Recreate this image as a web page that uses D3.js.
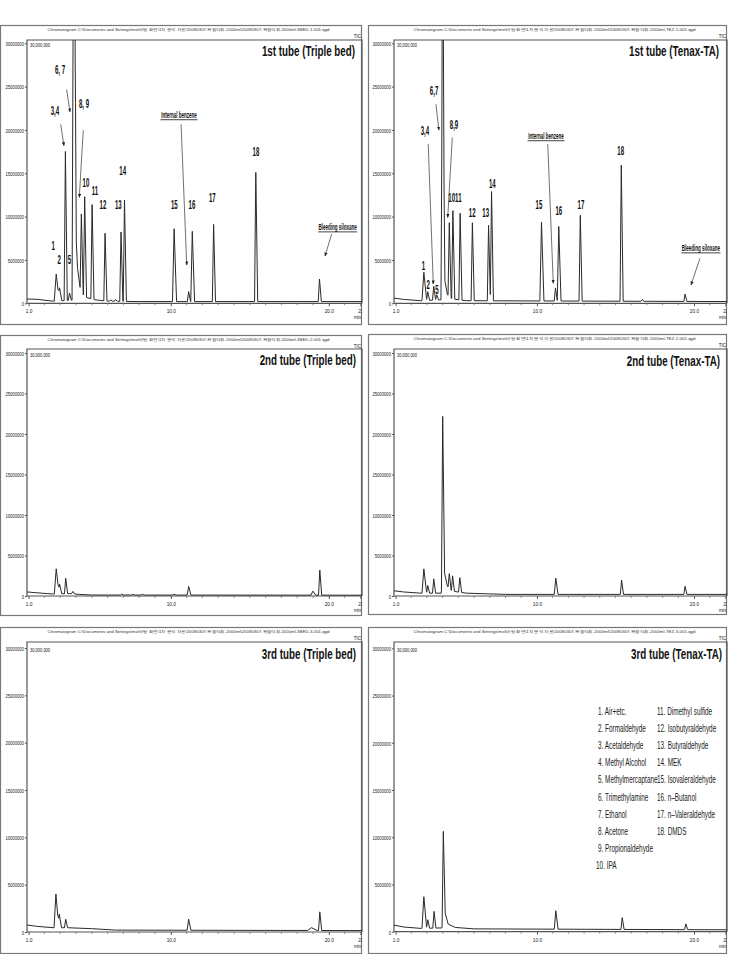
<!DOCTYPE html>
<html><head><meta charset="utf-8">
<script src="https://cdn.jsdelivr.net/npm/d3@7"></script>
<style>body{margin:0;background:#fff}svg text{font-family:"Liberation Sans",Arial,sans-serif}</style>
</head><body>
<svg id="c" width="730" height="954"></svg>
<script>
// ---------------- DATA ----------------
const panelTitles = ["1st tube (Triple bed)","2nd tube (Triple bed)","3rd tube (Triple bed)",
                     "1st tube (Tenax-TA)","2nd tube (Tenax-TA)","3rd tube (Tenax-TA)"];
const filePaths = [
 "Chromatogram C:\\Documents and Settings\\mo\\바탕 화면\\1차 분석 자료\\20080307-복합악취-2000ml\\20080307-복합악취-2000ml-3BED-1-001.qgd",
 "Chromatogram C:\\Documents and Settings\\mo\\바탕 화면\\1차 분석 자료\\20080307-복합악취-2000ml\\20080307-복합악취-2000ml-3BED-2-001.qgd",
 "Chromatogram C:\\Documents and Settings\\mo\\바탕 화면\\1차 분석 자료\\20080307-복합악취-2000ml\\20080307-복합악취-2000ml-3BED-3-001.qgd",
 "Chromatogram C:\\Documents and Settings\\mo\\바탕 화면\\1차 분석 자료\\20080307-복합악취-2000ml\\20080307-복합악취-2000ml-TEZ-1-001.qgd",
 "Chromatogram C:\\Documents and Settings\\mo\\바탕 화면\\1차 분석 자료\\20080307-복합악취-2000ml\\20080307-복합악취-2000ml-TEZ-2-001.qgd",
 "Chromatogram C:\\Documents and Settings\\mo\\바탕 화면\\1차 분석 자료\\20080307-복합악취-2000ml\\20080307-복합악취-2000ml-TEZ-3-001.qgd"];
const yTickValues = [0,5000000,10000000,15000000,20000000,25000000,30000000];
const yTickLabels = ["0","5000000","10000000","15000000","20000000","25000000","30000000"];
const xTickValues = [1,10,20,22];
const xTickLabels = ["1.0","10.0","20.0","22"];
const xMinorTicks = [2,3,4,5,6,7,8,9,11,12,13,14,15,16,17,18,19,21];
const scaleNote = "30,000,000";

// peaks: [retention time (min), height (counts), width factor]
const peaksTB1 = [[2.75,3.1e6,1.6],[2.96,1.5e6,1.2],[3.33,17.2e6],[3.59,0.85e6],[3.83,34e6],[3.90,34e6],
  [4.34,9.1e6],[4.55,11.5e6],[5.02,10.9e6],[5.84,7.8e6],[6.2,0.15e6],[6.5,0.2e6],[6.85,8.0e6],[7.07,11.7e6],
  [10.21,8.4e6,1.3],[11.13,1.15e6],[11.36,8.1e6,1.2],[12.71,8.9e6],[15.38,14.9e6],[19.41,2.6e6]];
const baseTB1 = [[0.9,0.5e6],[1.6,0.45e6],[2.5,0.25e6],[3.75,0.35e6],[3.97,9e6],[4.1,4e6],[4.3,1.3e6],
  [4.6,0.7e6],[5.2,0.4e6],[6,0.25e6],[8,0.2e6],[22.2,0.2e6]];

const peaksTB2 = [[2.75,3.1e6,1.5],[2.96,1.2e6,1.2],[3.35,1.9e6],[3.8,0.3e6],[6.9,0.12e6],[7.6,0.1e6],
  [8.2,0.1e6],[10.2,0.1e6],[11.13,1.07e6,1.2],[18.99,0.5e6,1.5],[19.43,3.1e6]];
const baseTB2 = [[0.9,0.5e6],[1.5,0.4e6],[2.5,0.25e6],[3.6,0.3e6],[4.2,0.2e6],[5,0.12e6],[22.2,0.1e6]];

const peaksTB3 = [[2.73,3.56e6,1.5],[2.94,1.45e6,1.2],[3.35,0.9e6],[11.13,1.16e6,1.2],[18.9,0.3e6,3],[19.43,1.97e6]];
const baseTB3 = [[0.9,0.74e6],[1.5,0.6e6],[2.6,0.45e6],[3.5,0.45e6],[5,0.35e6],[6.5,0.2e6],[22.2,0.15e6]];

const peaksTX1 = [[2.80,3.26e6,1.5],[3.05,1.0e6],[3.43,1.6e6],[3.62,0.6e6],[3.97,24.6e6],[4.02,23.5e6],
  [4.42,8.5e6],[4.65,10.2e6],[5.11,10.0e6],[5.89,9.0e6],[6.92,8.7e6],[7.11,12.6e6],[10.29,9.1e6,1.3],
  [11.18,1.5e6],[11.39,8.6e6,1.2],[12.76,9.9e6],[15.37,15.7e6],[16.7,0.2e6],[19.43,0.84e6]];
const baseTX1 = [[0.9,0.6e6],[1.5,0.45e6],[2.6,0.3e6],[3.9,0.4e6],[4.1,3e6],[4.3,1e6],[4.6,0.5e6],
  [5.5,0.3e6],[22.2,0.2e6]];

const peaksTX2 = [[2.80,3.0e6,1.5],[3.05,0.95e6],[3.43,1.77e6],[4.0,20.5e6],[4.42,1.8e6],[4.63,1.9e6],
  [5.09,1.8e6],[11.2,2.0e6,1.2],[15.39,1.77e6],[19.43,1.0e6]];
const baseTX2 = [[0.9,0.65e6],[1.5,0.5e6],[2.6,0.35e6],[3.9,0.35e6],[4.1,3e6],[4.3,1.2e6],[4.6,0.6e6],
  [5.5,0.35e6],[8,0.2e6],[22.2,0.2e6]];

const peaksTX3 = [[2.80,3.35e6,1.5],[3.05,0.9e6],[3.45,1.77e6],[4.04,9.5e6],[11.2,1.95e6,1.2],
  [15.43,1.24e6],[19.48,0.6e6]];
const baseTX3 = [[0.9,0.7e6],[1.5,0.5e6],[2.6,0.35e6],[3.95,0.4e6],[4.15,2.0e6],[4.35,0.8e6],[4.8,0.45e6],
  [6,0.3e6],[22.2,0.2e6]];

// peak labels: [text, time, intensity]
const labelsTB1 = [["1",2.56,6.72e6],["2",2.94,5.1e6],["5",3.58,5.1e6],["3,4",2.67,22.3e6],["6, 7",2.99,27.0e6],
  ["8, 9",4.51,23.1e6],["10",4.63,13.9e6],["11",5.2,13.0e6],["12",5.71,11.45e6],["13",6.68,11.45e6],
  ["14",6.96,15.3e6],["15",10.22,11.45e6],["16",11.34,11.45e6],["17",12.63,12.2e6],["18",15.39,17.55e6]];
const notesTB1 = [["Internal benzene",10.52,21.7e6],["Bleeding siloxane",20.56,8.76e6]];
const arrowsTB1 = [[3.41,24.66e6,3.62,22.08e6],[3.03,20.66e6,3.24,18.16e6],[4.46,19.98e6,4.21,12.22e6],
  [10.65,20.66e6,11.01,4.41e6],[20.18,7.99e6,19.76,5.45e6]];

const labelsTX1 = [["1",2.77,4.33e6],["2",3.08,2.11e6],["5",3.64,1.61e6],["3,4",2.87,19.9e6],["6,7",3.45,24.6e6],
  ["8,9",4.72,20.66e6],["1011",4.78,12.2e6],["12",5.88,10.44e6],["13",6.74,10.44e6],["14",7.16,13.83e6],
  ["15",10.13,11.44e6],["16",11.39,10.67e6],["17",12.8,11.44e6],["18",15.33,17.59e6]];
const notesTX1 = [["Internal benzene",10.58,19.28e6],["Bleeding siloxane",20.44,6.34e6]];
const arrowsTX1 = [[3.57,22.97e6,3.76,19.97e6],[3.08,18.36e6,3.40,2.22e6],[4.61,19.13e6,4.32,9.9e6],
  [10.69,18.36e6,11.04,2.3e6],[20.38,5.19e6,19.81,2.11e6]];

const legendCol1 = ["1. Air+etc.","2. Formaldehyde","3. Acetaldehyde","4. Methyl Alcohol","5. Methylmercaptane",
  "6. Trimethylamine","7. Ethanol","8. Acetone","9. Propionaldehyde","10. IPA"];
const legendCol2 = ["11. Dimethyl sulfide","12. Isobutyraldehyde","13. Butyraldehyde","14. MEK",
  "15. Isovaleraldehyde","16. n–Butanol","17. n–Valeraldehyde","18. DMDS"];

// ---------------- LAYOUT ----------------
const layout = [
 {ox:0,  oy:25,  ow:362, oh:299, l:27,  r:362, t:40,  y0:303.3, y30:43.3, ty:55.5, tr:355, peaks:peaksTB1, base:baseTB1, labels:labelsTB1, notes:notesTB1, arrows:arrowsTB1},
 {ox:0,  oy:335, ow:362, oh:280, l:27,  r:362, t:349, y0:596,   y30:353,  ty:365,  tr:356, peaks:peaksTB2, base:baseTB2},
 {ox:0,  oy:627, ow:362, oh:326, l:27,  r:362, t:642, y0:932,   y30:648,  ty:659,  tr:356, peaks:peaksTB3, base:baseTB3},
 {ox:368,oy:25,  ow:359, oh:299, l:394, r:727, t:40,  y0:303.3, y30:43.3, ty:56,   tr:719, peaks:peaksTX1, base:baseTX1, labels:labelsTX1, notes:notesTX1, arrows:arrowsTX1},
 {ox:368,oy:334, ow:359, oh:280, l:394, r:727, t:349, y0:596,   y30:353,  ty:366,  tr:720, peaks:peaksTX2, base:baseTX2},
 {ox:368,oy:627, ow:359, oh:326, l:394, r:727, t:642, y0:931.7, y30:648.3,ty:659,  tr:722, peaks:peaksTX3, base:baseTX3, legend:true}
];

const svg = d3.select("#c");
const defs = svg.append("defs");
defs.append("marker").attr("id","arr").attr("viewBox","0 0 10 10").attr("refX",9).attr("refY",5)
  .attr("markerWidth",4).attr("markerHeight",4).attr("markerUnits","userSpaceOnUse").attr("orient","auto")
  .append("path").attr("d","M0,1 L10,5 L0,9 Z").attr("fill","#222");

function ctext(g, str, x, y, o) {
  return g.append("text")
    .attr("transform", `translate(${x},${y}) scale(${o.sx||1},1)`)
    .attr("font-size", o.size).attr("font-weight", o.weight||"normal")
    .attr("text-anchor", o.anchor||"start")
    .attr("dominant-baseline", o.baseline||"auto")
    .attr("fill", o.fill||"#111").text(str);
}

function buildTrace(base, peaks) {
  const bScale = d3.scaleLinear().domain(base.map(d=>d[0])).range(base.map(d=>d[1]));
  const WL = 0.08, WR = 0.12;
  const ts = new Set(base.map(d=>d[0]));
  peaks.forEach(p => { const f=p[2]||1; ts.add(p[0]-WL*f); ts.add(p[0]); ts.add(p[0]+WR*f); });
  const times = Array.from(ts).filter(t=>t>=0.9&&t<=22.2).sort((a,b)=>a-b);
  return times.map(t => {
    let v = bScale(t);
    peaks.forEach(p => {
      const f=p[2]||1, wl=WL*f, wr=WR*f;
      if (t<=p[0] && t>p[0]-wl) v += p[1]*(1-(p[0]-t)/wl);
      else if (t>p[0] && t<p[0]+wr) v += p[1]*(1-(t-p[0])/wr);
    });
    return [t,v];
  });
}

layout.forEach((P, i) => {
  const g = svg.append("g");
  const x = d3.scaleLinear().domain([0.9,22.1]).range([P.l,P.r]);
  const y = d3.scaleLinear().domain([0,30000000]).range([P.y0,P.y30]);
  const cid = "clip"+i, oid = "oclip"+i;
  defs.append("clipPath").attr("id",cid).append("rect")
    .attr("x",P.l).attr("y",P.t).attr("width",P.r-P.l).attr("height",P.y0-P.t+3);
  defs.append("clipPath").attr("id",oid).append("rect")
    .attr("x",P.ox).attr("y",P.oy).attr("width",P.ow).attr("height",P.oh);

  // outer frame
  g.append("rect").attr("x",P.ox+0.5).attr("y",P.oy+0.5).attr("width",P.ow-1).attr("height",P.oh)
    .attr("fill","none").attr("stroke","#777").attr("stroke-width",1.2);
  // file path header
  const cx = (P.l + P.r)/2 - 6;
  g.append("text").attr("x",cx).attr("y",P.oy+5.5).attr("text-anchor","middle")
    .attr("font-size",4).attr("textLength",282).attr("lengthAdjust","spacingAndGlyphs")
    .attr("font-family","'Noto Sans CJK KR','Liberation Sans',sans-serif").attr("fill","#333").text(filePaths[i]);
  ctext(g,"TIC",P.r-1,P.oy+12.5,{size:6,sx:0.75,anchor:"end"});
  // plot frame
  g.append("path").attr("d",`M${P.l},${P.y0}V${P.t}H${P.r}V${P.y0}`).attr("fill","none")
    .attr("stroke","#555").attr("stroke-width",1.2);
  // y axis ticks
  const ya = g.append("g").attr("transform",`translate(${P.l},0)`)
    .call(d3.axisLeft(y).tickValues(yTickValues).tickSize(2).tickFormat((d,k)=>yTickLabels[k]));
  ya.select(".domain").remove();
  ya.selectAll("line").attr("stroke","#555");
  ya.selectAll(".tick text").each(function(){
    d3.select(this).attr("x",null).attr("dy",null).attr("font-size",6).attr("fill","#222")
      .attr("dominant-baseline","central").attr("transform","translate(-3,0) scale(0.7,1)");
  });
  // x axis
  const xw = g.append("g").attr("clip-path",`url(#${oid})`);
  const xa = xw.append("g").attr("transform",`translate(0,${P.y0})`)
    .call(d3.axisBottom(x).tickValues(xTickValues).tickSize(3).tickFormat((d,k)=>xTickLabels[k]));
  xa.select(".domain").attr("stroke","#555").attr("stroke-width",1.2).attr("d",`M${P.l},0H${P.r}`);
  xa.selectAll("line").attr("stroke","#555");
  xa.selectAll(".tick text").attr("font-size",6).attr("fill","#222").attr("y",null).attr("dy",null)
    .attr("transform","translate(0,10) scale(0.8,1)");
  xw.selectAll(".minor").data(xMinorTicks).join("line").attr("class","minor")
    .attr("x1",d=>x(d)).attr("x2",d=>x(d)).attr("y1",P.y0).attr("y2",P.y0+2)
    .attr("stroke","#666").attr("stroke-width",0.7);
  ctext(g,"min",P.r-1,P.y0+16,{size:5.5,sx:0.8,anchor:"end"});
  ctext(g,scaleNote,P.l+3,P.y30+3.5,{size:6,sx:0.67});
  // panel title
  ctext(g,panelTitles[i],P.tr,P.ty,{size:14,sx:0.7,anchor:"end",weight:"bold"});

  // trace
  const pts = buildTrace(P.base, P.peaks);
  g.append("path").attr("clip-path",`url(#${cid})`).datum(pts)
    .attr("d", d3.line().x(d=>x(d[0])).y(d=>y(d[1])))
    .attr("fill","none").attr("stroke","#2a2a2a").attr("stroke-width",1);

  if (P.labels) {
    P.labels.forEach(L => ctext(g,L[0],x(L[1]),y(L[2]),{size:13,sx:0.47,anchor:"middle",weight:"bold",baseline:"central"}));
    P.notes.forEach(N => {
      const tx = x(N[1]), ty = y(N[2]);
      ctext(g,N[0],tx,ty,{size:9,sx:0.5,anchor:"middle",weight:"bold",baseline:"central"});
      const w = N[0]==="Internal benzene" ? 37 : 39;
      g.append("line").attr("x1",tx-w/2).attr("x2",tx+w/2).attr("y1",ty+4.5).attr("y2",ty+4.5)
        .attr("stroke","#111").attr("stroke-width",0.8);
    });
    P.arrows.forEach(A => g.append("line").attr("x1",x(A[0])).attr("y1",y(A[1]))
      .attr("x2",x(A[2])).attr("y2",y(A[3])).attr("stroke","#333").attr("stroke-width",0.7)
      .attr("marker-end","url(#arr)"));
  }
  if (P.legend) {
    legendCol1.forEach((s,k) => ctext(g,s,k===9?596:598,711+k*17.2,{size:11,sx:0.58,baseline:"central",fill:"#222"}));
    legendCol2.forEach((s,k) => ctext(g,s,657,711+k*17.2,{size:11,sx:0.58,baseline:"central",fill:"#222"}));
  }
});
</script>
</body></html>
